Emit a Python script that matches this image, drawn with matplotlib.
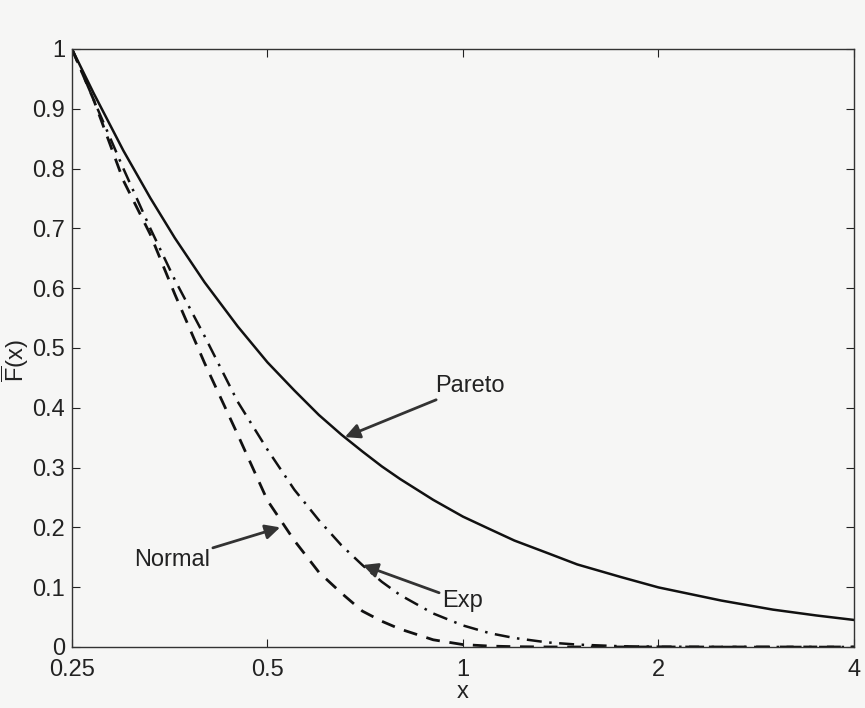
import numpy as np
import matplotlib
matplotlib.use('Agg')
from matplotlib import pyplot as plt

plt.rcParams['font.family'] = ['Liberation Sans', 'DejaVu Sans']
plt.rcParams['mathtext.fontset'] = 'custom'
plt.rcParams['mathtext.rm'] = 'Liberation Sans'
plt.rcParams['mathtext.it'] = 'Liberation Sans'

# values
x = [0.25, 0.27, 0.30, 0.33, 0.36, 0.40, 0.45, 0.50, 0.55, 0.60, 0.65, 0.70,
     0.75, 0.80, 0.90, 1.00, 1.10, 1.20, 1.35, 1.50, 1.75, 2.00, 2.50, 3.00,
     3.50, 4.00]
pareto = [1.0, 0.926, 0.83, 0.751, 0.684, 0.61, 0.536, 0.476, 0.429, 0.388, 0.355, 0.327,
          0.302, 0.281, 0.246, 0.218, 0.197, 0.178, 0.157, 0.138, 0.117, 0.0996, 0.0776, 0.0625,
          0.0527, 0.0452]
expo = [1.0, 0.915, 0.80, 0.70, 0.614, 0.52, 0.41, 0.33, 0.263, 0.212, 0.170, 0.137,
        0.109, 0.087, 0.056, 0.036, 0.023, 0.015, 0.0076, 0.004, 0.0012, 0.0005, 0.0, 0.0,
        0.0, 0.0]
normal = [1.0, 0.915, 0.78, 0.69, 0.59, 0.475, 0.355, 0.245, 0.178, 0.125, 0.09, 0.06,
          0.043, 0.03, 0.012, 0.004, 0.0015, 0.0005, 0.0, 0.0, 0.0, 0.0, 0.0, 0.0,
          0.0, 0.0]

xticks = [0.25, 0.5, 1, 2, 4]
xticklabels = ['0.25', '0.5', '1', '2', '4']
yticks = [0, 0.1, 0.2, 0.3, 0.4, 0.5, 0.6, 0.7, 0.8, 0.9, 1]
yticklabels = ['0', '0.1', '0.2', '0.3', '0.4', '0.5', '0.6', '0.7', '0.8', '0.9', '1']

bg = '#f6f6f5'
fig = plt.figure(figsize=(8.65, 7.08), dpi=100, facecolor=bg)
ax = fig.add_axes([0.0832, 0.0862, 0.904, 0.8446], facecolor=bg)

ax.plot(x, pareto, color='#111111', lw=1.8, ls='-')
ax.plot(x, expo, color='#111111', lw=1.8, ls=(0, (6, 3, 1, 3)))
ax.plot(x, normal, color='#111111', lw=2.0, ls=(0, (5, 3.5)))

ax.set_xscale('log', base=2)
ax.set_xlim(0.25, 4)
ax.set_ylim(0, 1)
ax.set_xticks(xticks)
ax.set_xticklabels(xticklabels)
ax.minorticks_off()
ax.set_yticks(yticks)
ax.set_yticklabels(yticklabels)
ax.tick_params(direction='in', top=True, right=True, length=6, width=0.8,
               labelsize=17, colors='#222222', pad=5)
ax.tick_params(axis='x', pad=9)
for s in ax.spines.values():
    s.set_linewidth(1.0)
    s.set_color('#333333')

ax.set_xlabel('x', fontsize=17, color='#222222', labelpad=0)
fig.text(0.017, 0.49, r'$\overline{F}(x)$', rotation=90, fontsize=17,
         ha='center', va='center', color='#222222')

arrow = dict(arrowstyle='-|>', color='#333333', lw=2.0, mutation_scale=22,
             shrinkA=0, shrinkB=0)
ax.annotate('Pareto', xy=(0.658, 0.351), xytext=(0.906, 0.418), fontsize=17,
            ha='left', va='bottom', arrowprops=arrow, color='#222222')
ax.annotate('Normal', xy=(0.523, 0.2), xytext=(0.408, 0.145), fontsize=17,
            ha='right', va='center', arrowprops=arrow, color='#222222')
ax.annotate('Exp', xy=(0.701, 0.137), xytext=(0.928, 0.095), fontsize=17,
            ha='left', va='top', arrowprops=arrow, color='#222222')

plt.savefig('out.png', dpi=100, facecolor=bg)
